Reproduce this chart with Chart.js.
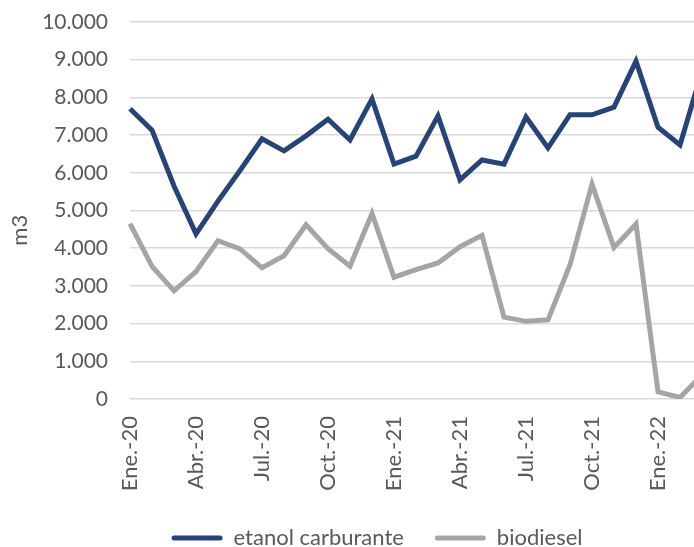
<!DOCTYPE html>
<html>
<head>
<meta charset="utf-8">
<script src="https://cdn.jsdelivr.net/npm/chart.js@4"></script>
<style>
  html, body { margin: 0; padding: 0; background: #fff; overflow: hidden; width: 694px; height: 547px; }
  canvas { display: block; }
</style>
</head>
<body>
<!-- el grafico original es mas ancho y queda recortado a la derecha -->
<canvas id="graf" width="754" height="559"></canvas>
<script>
const meses = [
  'Ene.-20','Feb.-20','Mar.-20','Abr.-20','May.-20','Jun.-20','Jul.-20','Ago.-20','Sep.-20','Oct.-20','Nov.-20','Dic.-20',
  'Ene.-21','Feb.-21','Mar.-21','Abr.-21','May.-21','Jun.-21','Jul.-21','Ago.-21','Sep.-21','Oct.-21','Nov.-21','Dic.-21',
  'Ene.-22','Feb.-22','Mar.-22'
];
const etanol = [7700, 7130, 5650, 4380, 5250, 6060, 6900, 6580, 6980, 7420, 6870, 7960,
                6230, 6440, 7510, 5810, 6340, 6230, 7480, 6660, 7540, 7540, 7740, 8960,
                7210, 6740, 8700];
const biodiesel = [4650, 3520, 2870, 3380, 4200, 3980, 3480, 3800, 4620, 3990, 3520, 4920,
                   3230, 3430, 3610, 4040, 4340, 2170, 2060, 2100, 3560, 5700, 4020, 4640,
                   190, 40, 640];
const yMin = 0, yMax = 10000, yPaso = 1000;

const azul = '#264478';
const gris = '#a5a5a5';
const txt = '#595959';
const fuente = 'Lato';

function miles(v) {
  return String(v).replace(/\B(?=(\d{3})+(?!\d))/g, '.');
}

const ctx = document.getElementById('graf');
const chart = new Chart(ctx, {
  type: 'line',
  data: {
    labels: meses,
    datasets: [{
      label: 'etanol carburante',
      data: etanol,
      borderColor: azul,
      backgroundColor: azul,
      borderWidth: 5,
      pointRadius: 0,
      tension: 0
    }, {
      label: 'biodiesel',
      data: biodiesel,
      borderColor: gris,
      backgroundColor: gris,
      borderWidth: 5,
      pointRadius: 0,
      tension: 0
    }]
  },
  options: {
    responsive: false,
    animation: false,
    layout: { padding: { top: 22, left: 0, right: 0, bottom: 0 } },
    plugins: {
      tooltip: { enabled: false },
      legend: {
        position: 'bottom',
        labels: {
          color: txt,
          font: { family: fuente, size: 22 },
          boxWidth: 51,
          boxHeight: 5,
          useBorderRadius: true,
          borderRadius: 2.5,
          padding: 31,
          generateLabels: (c) => Chart.defaults.plugins.legend.labels.generateLabels(c)
            .map(l => Object.assign(l, { lineWidth: 0 }))
        }
      }
    },
    scales: {
      x: {
        grid: { display: false, drawTicks: false },
        border: { display: false },
        afterFit: (s) => { s.height = 97; s.paddingLeft = 0; s.paddingRight = 52; },
        ticks: {
          color: txt,
          font: { family: fuente, size: 22 },
          autoSkip: false,
          minRotation: 90,
          maxRotation: 90,
          padding: 17,
          callback: (v, i) => (i % 3 === 0 ? meses[i] : '')
        }
      },
      y: {
        min: yMin,
        max: yMax,
        afterFit: (s) => { s.width = 130; s.paddingTop = 0; s.paddingBottom = 0; },
        grid: { color: '#d9d9d9', lineWidth: 1.5, drawTicks: false },
        border: { display: false },
        title: {
          display: true,
          text: 'm3       ',
          color: txt,
          font: { family: fuente, size: 22 },
          padding: { top: 7, bottom: 0 }
        },
        ticks: {
          stepSize: yPaso,
          color: txt,
          font: { family: fuente, size: 21 },
          padding: 22,
          callback: (v) => miles(v)
        }
      }
    }
  }
});
</script>
</body>
</html>
